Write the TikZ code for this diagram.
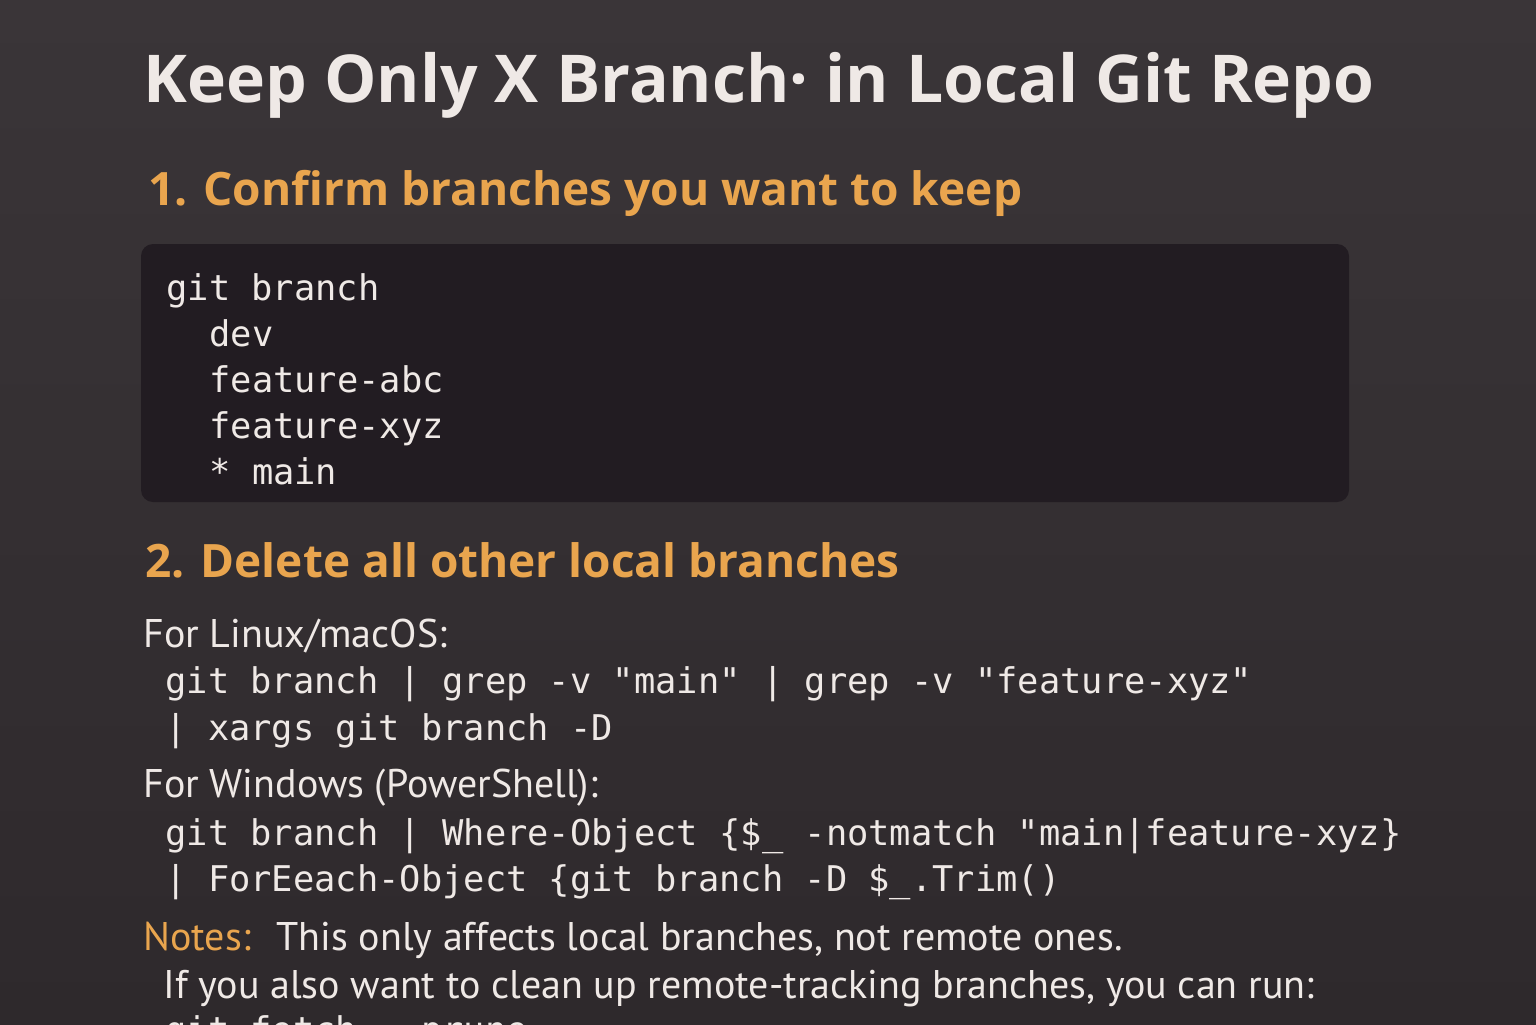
\documentclass[tikz,border=0pt]{standalone}
\usepackage{fontspec}
\setmainfont{PT Sans}
\newfontfamily\titlefont{Open Sans}
\setmonofont{DejaVu Sans Mono}
\definecolor{bgtop}{HTML}{3A3538}
\definecolor{bgbot}{HTML}{2E292C}
\definecolor{codebg}{HTML}{221C22}
\definecolor{orng}{HTML}{E9A54E}
\definecolor{txt}{HTML}{EFE9E6}
\tikzset{
 ttl/.style={anchor=base west,inner sep=0,text=txt,font=\titlefont\bfseries\fontsize{33}{36}\selectfont},
 hdr/.style={anchor=base west,inner sep=0,text=orng,font=\titlefont\bfseries\fontsize{23}{26}\selectfont},
 code/.style={anchor=base west,inner sep=0,text=txt,font=\ttfamily\fontsize{17.7}{20}\selectfont},
 body/.style={anchor=base west,inner sep=0,text=txt,font=\fontsize{20}{22}\selectfont},
}
\begin{document}
\begin{tikzpicture}[x=0.5pt,y=-0.5pt]
\useasboundingbox (0,0) rectangle (1536,1024);
\shade[top color=bgtop,bottom color=bgbot] (0,0) rectangle (1536,1024);
\node[ttl] (title) at (143,102) {Keep Only X Branch· in Local Git Repo};
\node[hdr] (h1) at (148,205) {1. Confirm branches you want to keep};
\fill[codebg,rounded corners=6pt] (141,244) rectangle (1349,502);
\node[code] (c1) at (166,300) {git branch};
\node[code] (c2) at (209,346) {dev};
\node[code] (c3) at (209,392) {feature-abc};
\node[code] (c4) at (209,438) {feature-xyz};
\node[code] (c5) at (209,484) {* main};
\node[hdr] (h2) at (145,577) {2. Delete all other local branches};
\node[body] (l1) at (143,647) {For Linux/macOS:};
\node[code] (l2) at (165,693) {git branch | grep -v "main" | grep -v "feature-xyz"};
\node[code] (l3) at (165,740) {| xargs git branch -D};
\node[body] (w1) at (143,797) {For Windows (PowerShell):};
\node[code] (w2) at (165,845) {git branch | Where-Object \{\$\_ -notmatch "main|feature-xyz\}};
\node[code] (w3) at (165,891) {| ForEeach-Object \{git branch -D \$\_.Trim()};
\node[body,text=orng] (n0) at (143,950) {Notes:};
\node[body] (n1) at (276,950) {This only affects local branches, not remote ones.};
\node[body] (n2) at (163,998) {If you also want to clean up remote-tracking branches, you can run:};
\node[code] (n3) at (165,1042) {git fetch --prune};
\end{tikzpicture}
\end{document}
